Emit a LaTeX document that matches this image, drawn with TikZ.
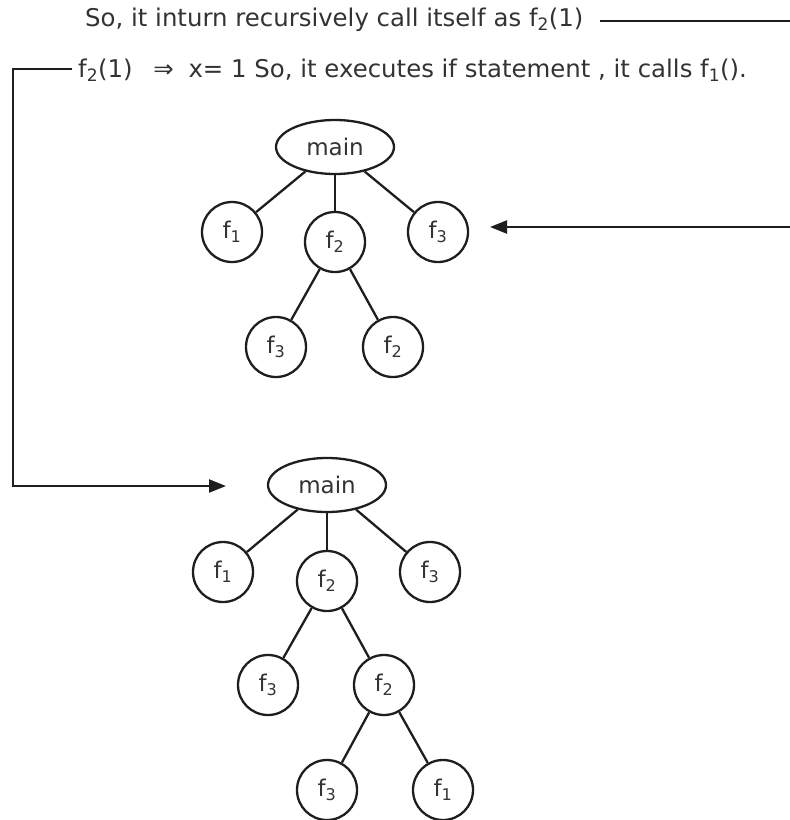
\documentclass[tikz,border=0pt]{standalone}
\usepackage{fontspec}
\setmainfont{DejaVu Sans}
\usetikzlibrary{shapes.geometric,arrows.meta}
\definecolor{ink}{HTML}{1E1E1E}
\definecolor{txt}{HTML}{333333}
\newcommand{\fn}[1]{f\textsubscript{#1}}
\tikzset{
  every node/.style={text=txt},
  line/.style={draw=ink,line width=2.3pt},
  arr/.style={line,-{Triangle[length=17pt,width=13pt]}},
  callnode/.style={circle,draw=ink,line width=2.3pt,minimum size=60pt,inner sep=0pt,font=\fontsize{23}{26}\selectfont},
  rootnode/.style={ellipse,draw=ink,line width=2.3pt,minimum width=118pt,minimum height=54pt,inner sep=0pt,font=\fontsize{23}{26}\selectfont},
  note/.style={anchor=west,inner sep=0pt,font=\fontsize{24.4}{28}\selectfont},
}
\begin{document}
\begin{tikzpicture}[x=1pt,y=-1pt]
\useasboundingbox (0,0) rectangle (790,820);

% explanatory notes
\node[note] (t1) at (85,20) {So, it inturn recursively call itself as \fn{2}(1)};
\node[note] (t2) at (78,70) {\fn{2}(1)\hspace{0.85em}⇒\hspace{0.6em}x= 1 So, it executes if statement , it calls \fn{1}().};

% first call tree
\node[rootnode] (m1) at (335,147) {main};
\node[callnode] (a1) at (232,232) {\fn{1}};
\node[callnode] (a2) at (335,242) {\fn{2}};
\node[callnode] (a3) at (438,232) {\fn{3}};
\node[callnode] (a4) at (276,347) {\fn{3}};
\node[callnode] (a5) at (393,347) {\fn{2}};
\draw[line] (m1) -- (a1);
\draw[line] (m1) -- (a2);
\draw[line] (m1) -- (a3);
\draw[line] (a2) -- (a4);
\draw[line] (a2) -- (a5);

% second call tree
\node[rootnode] (m2) at (327,485) {main};
\node[callnode] (b1) at (223,572) {\fn{1}};
\node[callnode] (b2) at (327,581) {\fn{2}};
\node[callnode] (b3) at (430,572) {\fn{3}};
\node[callnode] (b4) at (268,685) {\fn{3}};
\node[callnode] (b5) at (384,685) {\fn{2}};
\node[callnode] (b6) at (327,790) {\fn{3}};
\node[callnode] (b7) at (443,790) {\fn{1}};
\draw[line] (m2) -- (b1);
\draw[line] (m2) -- (b2);
\draw[line] (m2) -- (b3);
\draw[line] (b2) -- (b4);
\draw[line] (b2) -- (b5);
\draw[line] (b5) -- (b6);
\draw[line] (b5) -- (b7);

% connectors from the notes to the trees
\coordinate (r1) at (797,21);
\coordinate (r2) at (797,227);
\coordinate (p1) at (490,227);
\draw[line] ([xshift=16pt]t1.east |- r1) -- (r1) -- (r2);
\draw[arr] (r2) -- (p1);

\coordinate (l1) at (13,69);
\coordinate (l2) at (13,486);
\coordinate (p2) at (226,486);
\draw[arr] ([xshift=-6pt]t2.west |- l1) -- (l1) -- (l2) -- (p2);
\end{tikzpicture}
\end{document}
